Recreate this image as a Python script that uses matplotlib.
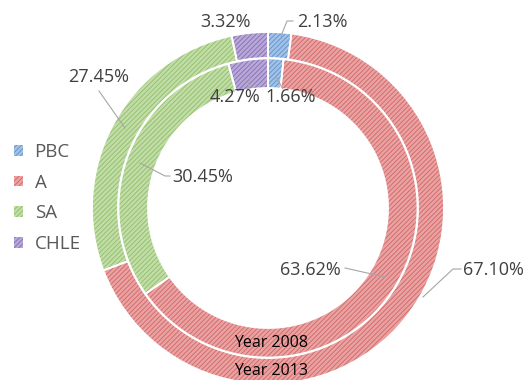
import matplotlib
matplotlib.use('Agg')
import matplotlib.pyplot as plt
from matplotlib.patches import Patch

categories = ['PBC', 'A', 'SA', 'CHLE']
year_2013 = [2.13, 67.10, 27.45, 3.32]
year_2008 = [1.66, 63.62, 30.45, 4.27]
series_names = ['Year 2008', 'Year 2013']

face = ['#A3C2E6', '#E9A3A3', '#C2DDA8', '#B9A9D6']
hatchc = ['#6597D0', '#D66B6B', '#93C16E', '#8A73BA']
HATCH = '///////'

plt.rcParams['hatch.linewidth'] = 0.7
plt.rcParams['font.family'] = ['Open Sans', 'DejaVu Sans']

W, H = 525, 380
fig = plt.figure(figsize=(W / 100, H / 100), dpi=100)
ax = fig.add_axes([0, 0, 1, 1])
cx, cy = 268, H - 208


def ring(values, r, width):
    w1, _ = ax.pie(values, radius=r, center=(cx, cy), startangle=90,
                   counterclock=False, frame=True,
                   wedgeprops=dict(width=width, linewidth=0, hatch=HATCH))
    for w, f, h in zip(w1, face, hatchc):
        w.set_facecolor(f)
        w.set_edgecolor(h)
        w.set_linewidth(0)
    ax.pie(values, radius=r, center=(cx, cy), startangle=90,
           counterclock=False, frame=True,
           wedgeprops=dict(width=width, facecolor='none',
                           edgecolor='white', linewidth=1.3))
    return w1


ring(year_2013, 176, 26)
ring(year_2008, 149.5, 29.5)

ax.set_xlim(0, W)
ax.set_ylim(0, H)
ax.set_axis_off()


def P(x, y):
    return x, H - y


txt = dict(fontsize=13, color='#404040', va='center')
lead = dict(color='#A6A6A6', lw=0.8)

# outer (2013) labels
ax.text(*P(297, 22), f'{year_2013[0]:.2f}%', ha='left', **txt)
ax.plot(*zip(P(293, 21), P(287, 21), P(281, 36)), **lead)
ax.text(*P(251, 22), f'{year_2013[3]:.2f}%', ha='right', **txt)
ax.text(*P(99, 77), f'{year_2013[2]:.2f}%', ha='center', **txt)
ax.plot(*zip(P(99, 91), P(125, 128)), **lead)
ax.text(*P(463, 270), f'{year_2013[1]:.2f}%', ha='left', **txt)
ax.plot(*zip(P(461, 269), P(453, 269), P(423, 297)), **lead)

# inner (2008) labels
ax.text(*P(265, 97), f'{year_2008[0]:.2f}%', ha='left', **txt)
ax.plot(*zip(P(283, 89), P(276, 77)), **lead)
ax.text(*P(260, 97), f'{year_2008[3]:.2f}%', ha='right', **txt)
ax.plot(*zip(P(248, 89), P(250, 76)), **lead)
ax.text(*P(172, 177), f'{year_2008[2]:.2f}%', ha='left', **txt)
ax.plot(*zip(P(170, 176), P(165, 176), P(140, 163)), **lead)
ax.text(*P(341, 270), f'{year_2008[1]:.2f}%', ha='right', **txt)
ax.plot(*zip(P(345, 268), P(385, 277)), **lead)

# series names
ax.text(*P(271, 343), series_names[0], ha='center', va='center',
        fontsize=11.5, color='black')
ax.text(*P(271, 371), series_names[1], ha='center', va='center',
        fontsize=11.5, color='black')

handles = [Patch(facecolor=f, edgecolor=h, hatch=HATCH, linewidth=0, label=c)
           for f, h, c in zip(face, hatchc, categories)]
fig.legend(handles=handles, loc='upper left',
           bbox_to_anchor=(14 / W, 1 - 143 / H), frameon=False,
           fontsize=13.5, labelcolor='#595959', handlelength=0.5,
           handleheight=0.5, handletextpad=0.6, labelspacing=0.68,
           borderpad=0, borderaxespad=0)

fig.savefig('out.png', dpi=100)
